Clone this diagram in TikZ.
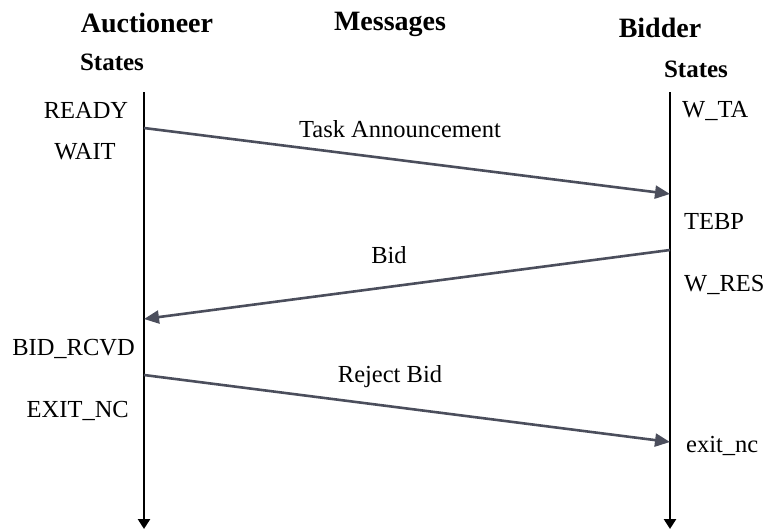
\documentclass[tikz,border=0pt]{standalone}
\usepackage{fontspec}
\setmainfont{Liberation Serif}
\usetikzlibrary{arrows.meta}
\definecolor{msggray}{HTML}{4B4E5C}
\begin{document}
\begin{tikzpicture}[x=1pt,y=-1pt,
  lifeline/.style={line width=2.8pt,-{Triangle[length=10pt,width=12pt]}},
  msg/.style={draw=msggray,line width=2.6pt,-{Triangle[length=15pt,width=13pt]},fill=msggray},
  lbl/.style={inner sep=0,font=\fontsize{24.5}{28}\selectfont},
  head/.style={inner sep=0,font=\bfseries\fontsize{28}{32}\selectfont},
  subhead/.style={inner sep=0,font=\bfseries\fontsize{25}{29}\selectfont}]
\useasboundingbox (0,0) rectangle (767,530);

% column headings
\node[head,anchor=base] (auct) at (147,32) {Auctioneer};
\node[subhead,anchor=base] (astates) at (112,70) {States};
\node[head,anchor=base] (msgs) at (390,30) {Messages};
\node[head,anchor=base] (bidder) at (660,37) {Bidder};
\node[subhead,anchor=base] (bstates) at (696,77) {States};

% lifelines
\coordinate (atop) at (144,92);
\coordinate (abot) at (144,529);
\coordinate (btop) at (670,92);
\coordinate (bbot) at (670,529);
\draw[lifeline] (atop) -- (abot);
\draw[lifeline] (btop) -- (bbot);

% auctioneer states
\node[lbl,anchor=base] (ready) at (86,118) {READY};
\node[lbl,anchor=base] (wait) at (85,159) {WAIT};
\node[lbl,anchor=base east] (bidrcvd) at (135,355) {BID\_RCVD};
\node[lbl,anchor=base east] (exitNC) at (129,417) {EXIT\_NC};

% bidder states
\node[lbl,anchor=base west] (wta) at (682,117) {W\_TA};
\node[lbl,anchor=base west] (tebp) at (684,229) {TEBP};
\node[lbl,anchor=base west] (wres) at (684,291) {W\_RES};
\node[lbl,anchor=base west] (exitnc) at (686,452) {exit\_nc};

% message end points on the lifelines
\coordinate (ta1) at (144,128);
\coordinate (ta2) at (670,194);
\coordinate (bid1) at (670,250);
\coordinate (bid2) at (144,319);
\coordinate (rb1) at (144,375);
\coordinate (rb2) at (670,442);

% messages
\draw[msg] (ta1) -- (ta2);
\draw[msg] (bid1) -- (bid2);
\draw[msg] (rb1) -- (rb2);
\node[lbl,anchor=base] (talbl) at (400,137) {Task Announcement};
\node[lbl,anchor=base] (bidlbl) at (389,263) {Bid};
\node[lbl,anchor=base] (rblbl) at (390,382) {Reject Bid};
\end{tikzpicture}
\end{document}
